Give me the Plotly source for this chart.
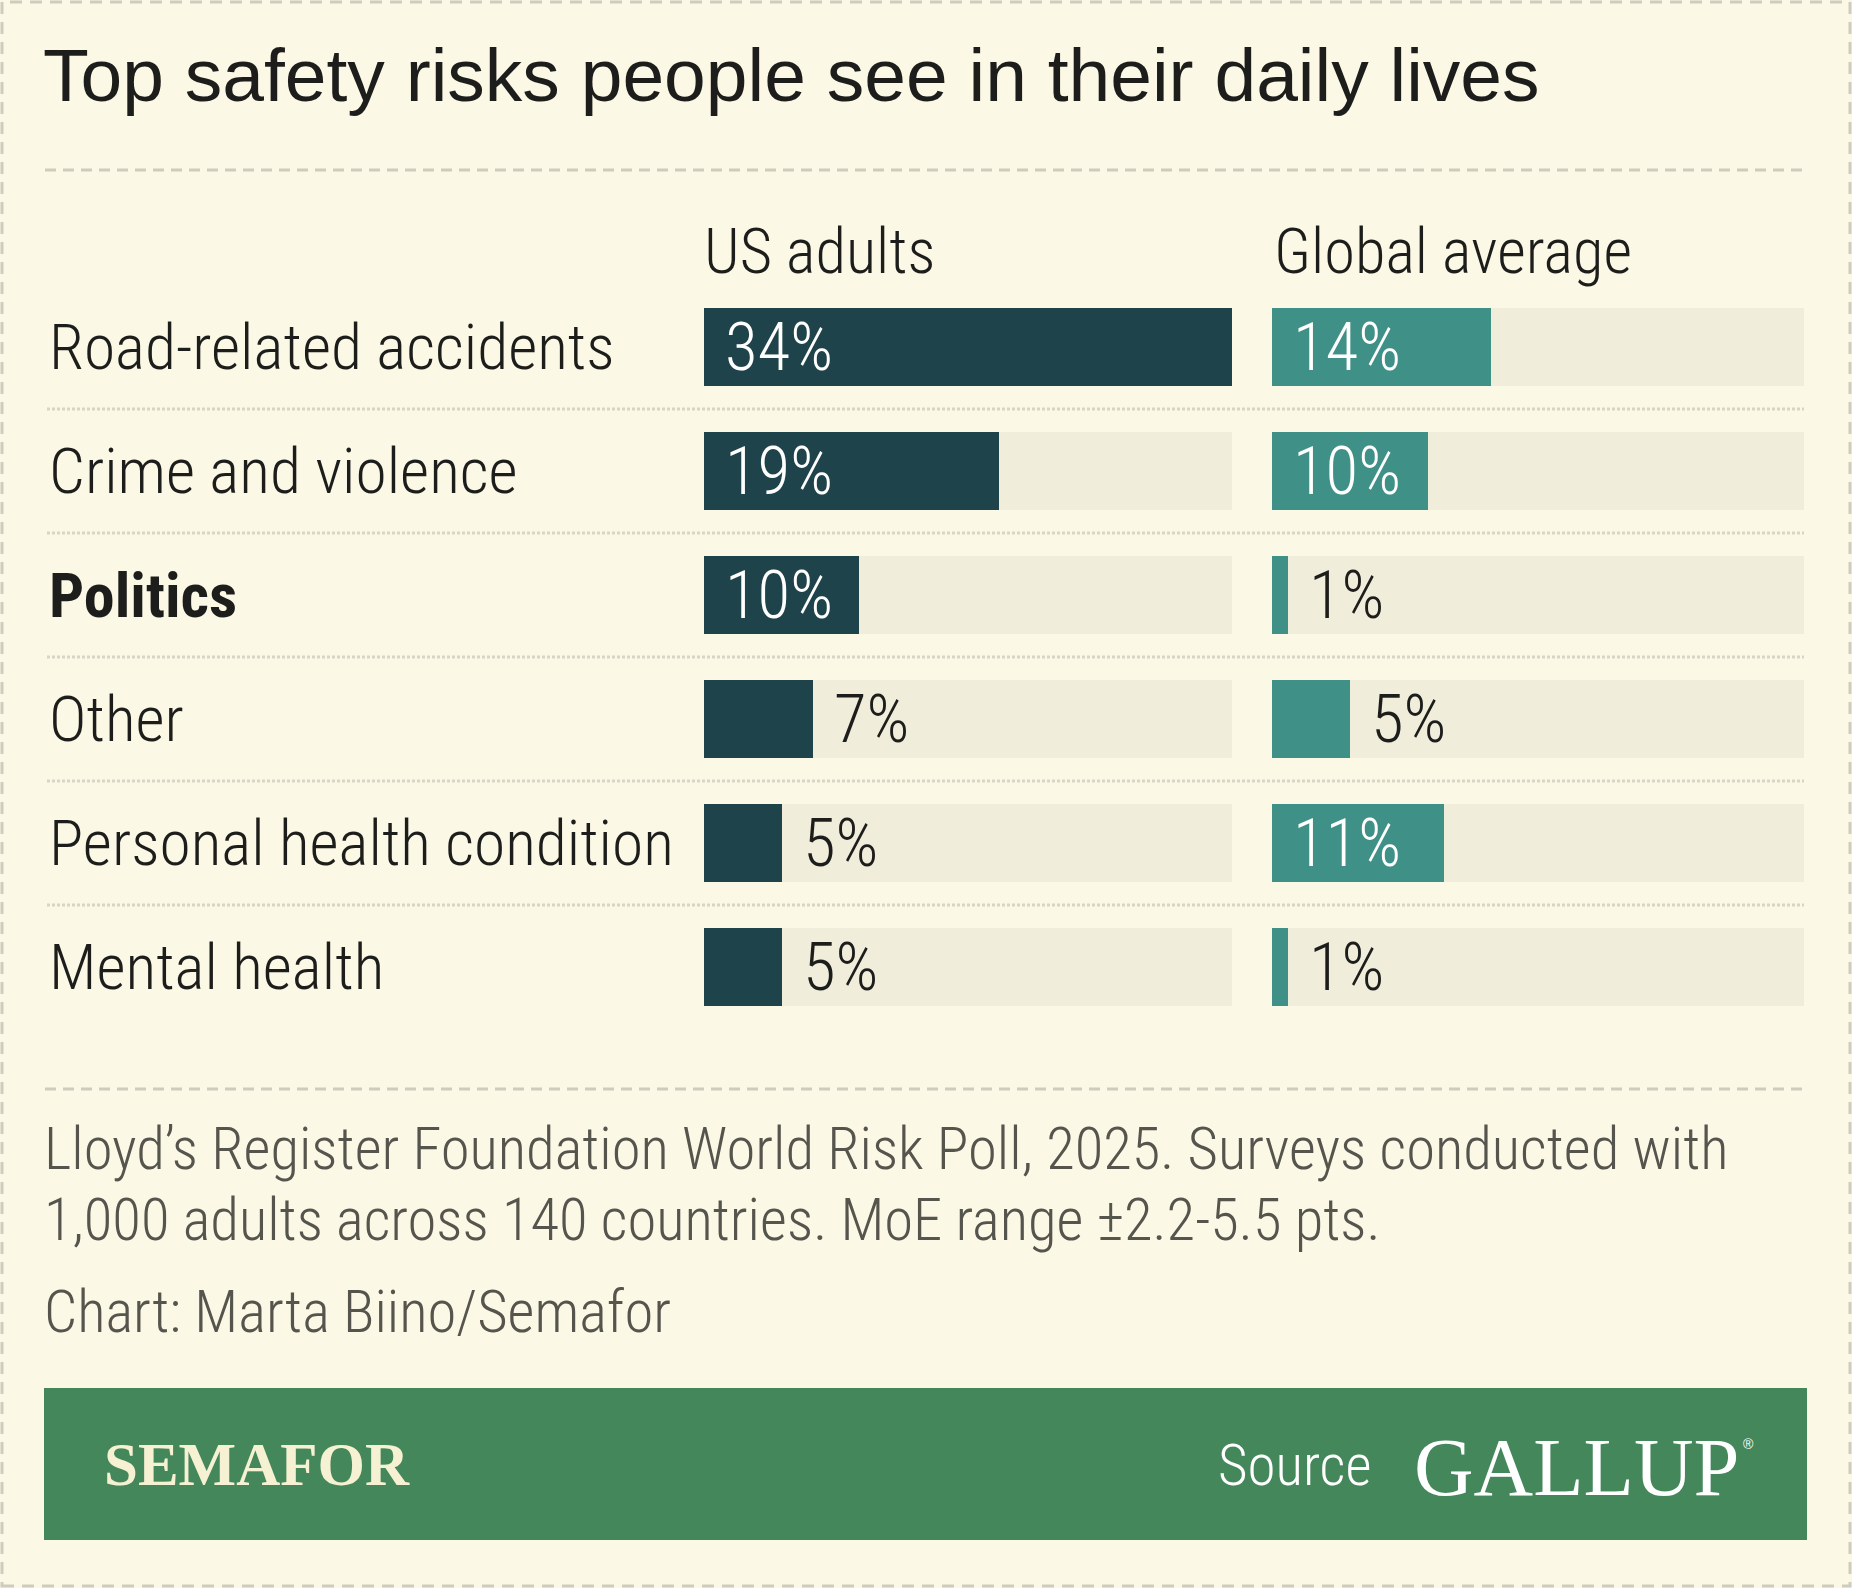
import plotly.graph_objects as go

# ---------------- data ----------------
categories = ["Road-related accidents", "Crime and violence", "Politics", "Other",
              "Personal health condition", "Mental health"]
us_adults = [34, 19, 10, 7, 5, 5]
global_average = [14, 10, 1, 5, 11, 1]
column_titles = ["US adults", "Global average"]
bold_categories = ["Politics"]

title = "Top safety risks people see in their daily lives"
note_lines = ["Lloyd’s Register Foundation World Risk Poll, 2025. Surveys conducted with",
              "1,000 adults across 140 countries. MoE range ±2.2-5.5 pts."]
credit = "Chart: Marta Biino/Semafor"

# ---------------- style ----------------
W, H = 1852, 1588
BG = "#fbf8e5"
TRACK = "#f0eddb"
US_COL = "#1f434a"
GL_COL = "#3f9087"
GREEN = "#43875a"
DASH_COL = "#cfccbf"
DOT_COL = "#d8d5c6"
TXT = "#1d1d1b"
NOTE_TXT = "#55544d"
NARROW = "Roboto Condensed, Liberation Sans Narrow, Arial Narrow, sans-serif"
SANS = "Liberation Sans, Arial, Helvetica, sans-serif"
SERIF = "Liberation Serif, Times New Roman, serif"
LIGHT = 300

def px(x):
    return x / W

def py(y):
    return 1 - y / H

scale_max = max(max(us_adults), max(global_average))
n = len(categories)
row_top_px, row_step_px, bar_h_px = 285, 124, 78
y_top = row_top_px
y_bot = row_top_px + n * row_step_px

fig = go.Figure()

for vals, color, xa in [(us_adults, US_COL, "x"), (global_average, GL_COL, "x2")]:
    fig.add_trace(go.Bar(x=[scale_max] * n, y=categories, orientation="h", xaxis=xa, yaxis="y",
                         marker=dict(color=TRACK, line=dict(width=0)), width=bar_h_px / row_step_px,
                         hoverinfo="skip", showlegend=False))
    fig.add_trace(go.Bar(x=vals, y=categories, orientation="h", xaxis=xa, yaxis="y",
                         marker=dict(color=color, line=dict(width=0)), width=bar_h_px / row_step_px,
                         showlegend=False))

annotations = []
shapes = []

# value labels
for vals, xa in [(us_adults, "x"), (global_average, "x2")]:
    for c, v in zip(categories, vals):
        inside = v >= 10
        annotations.append(dict(
            x=0 if inside else v, y=c, xref=xa, yref="y", xanchor="left", yanchor="middle",
            xshift=19, showarrow=False, text=f"{v}%",
            font=dict(family=NARROW, size=67, weight=LIGHT, color="#ffffff" if inside else TXT)))

# row labels
for c in categories:
    if c in bold_categories:
        font = dict(family=NARROW, size=62, weight=700, color=TXT)
    else:
        font = dict(family=NARROW, size=63.5, weight=LIGHT, color=TXT)
    annotations.append(dict(x=px(47), y=c, xref="paper", yref="y", xanchor="left", yanchor="middle",
                            showarrow=False, text=c, font=font))

# column headers
for t, xx in zip(column_titles, [702, 1272]):
    annotations.append(dict(x=px(xx), y=py(251), xref="paper", yref="paper", xanchor="left",
                            yanchor="middle", showarrow=False, text=t,
                            font=dict(family=NARROW, size=62.5, weight=LIGHT, color=TXT)))

# title
annotations.append(dict(x=px(41), y=py(74.5), xref="paper", yref="paper", xanchor="left",
                        yanchor="middle", showarrow=False, text=title,
                        font=dict(family=SANS, size=75, color=TXT)))

# notes
for t, yy in zip(note_lines + [credit], [1149, 1220, 1312]):
    annotations.append(dict(x=px(42), y=py(yy), xref="paper", yref="paper", xanchor="left",
                            yanchor="middle", showarrow=False, text=t,
                            font=dict(family=NARROW, size=58.7, weight=LIGHT, color=NOTE_TXT)))

# footer
annotations.append(dict(x=px(102), y=py(1464), xref="paper", yref="paper", xanchor="left",
                        yanchor="middle", showarrow=False, text="<b>SEMAFOR</b>",
                        font=dict(family=SERIF, size=61, color="#f7f1d3")))
annotations.append(dict(x=px(1216), y=py(1465), xref="paper", yref="paper", xanchor="left",
                        yanchor="middle", showarrow=False, text="Source",
                        font=dict(family=NARROW, size=57, weight=LIGHT, color="#ffffff")))
annotations.append(dict(x=px(1412), y=py(1467), xref="paper", yref="paper", xanchor="left",
                        yanchor="middle", showarrow=False, text="GALLUP",
                        font=dict(family=SERIF, size=82.5, color="#ffffff")))
annotations.append(dict(x=px(1741), y=py(1444), xref="paper", yref="paper", xanchor="left",
                        yanchor="middle", showarrow=False, text="®",
                        font=dict(family=SANS, size=14, color="#ffffff")))

# outer dashed border
shapes.append(dict(type="rect", xref="paper", yref="paper", x0=px(2), x1=px(W - 2), y0=py(H - 2),
                   y1=py(2), line=dict(color=DASH_COL, width=3, dash="12px,8px"), layer="above"))
# dashed rules
for yy in [170, 1089]:
    shapes.append(dict(type="line", xref="paper", yref="paper", x0=px(45), x1=px(1808),
                       y0=py(yy), y1=py(yy), line=dict(color=DASH_COL, width=3, dash="11px,7px")))
# dotted separators between rows
for i in range(n - 1):
    shapes.append(dict(type="line", xref="paper", yref="y", x0=px(47), x1=px(1804),
                       y0=i + 0.5, y1=i + 0.5, line=dict(color=DOT_COL, width=3, dash="3px,2px")))
# footer band
shapes.append(dict(type="rect", xref="paper", yref="paper", x0=px(44), x1=px(1807), y0=py(1540),
                   y1=py(1388), fillcolor=GREEN, line=dict(width=0), layer="below"))

axis_common = dict(range=[0, scale_max], showgrid=False, zeroline=False, showticklabels=False,
                   fixedrange=True, showline=False)
fig.update_layout(
    width=W, height=H, margin=dict(l=0, r=0, t=0, b=0),
    paper_bgcolor=BG, plot_bgcolor="rgba(0,0,0,0)",
    barmode="overlay", bargap=0,
    xaxis=dict(domain=[px(704), px(1232)], anchor="y", **axis_common),
    xaxis2=dict(domain=[px(1272), px(1804)], anchor="y", **axis_common),
    yaxis=dict(domain=[py(y_bot), py(y_top)], type="category", categoryorder="array",
               categoryarray=categories, range=[n - 0.5, -0.5], showgrid=False, zeroline=False,
               showticklabels=False, fixedrange=True),
    annotations=annotations, shapes=shapes, showlegend=False,
)

fig.write_html("out.html")
